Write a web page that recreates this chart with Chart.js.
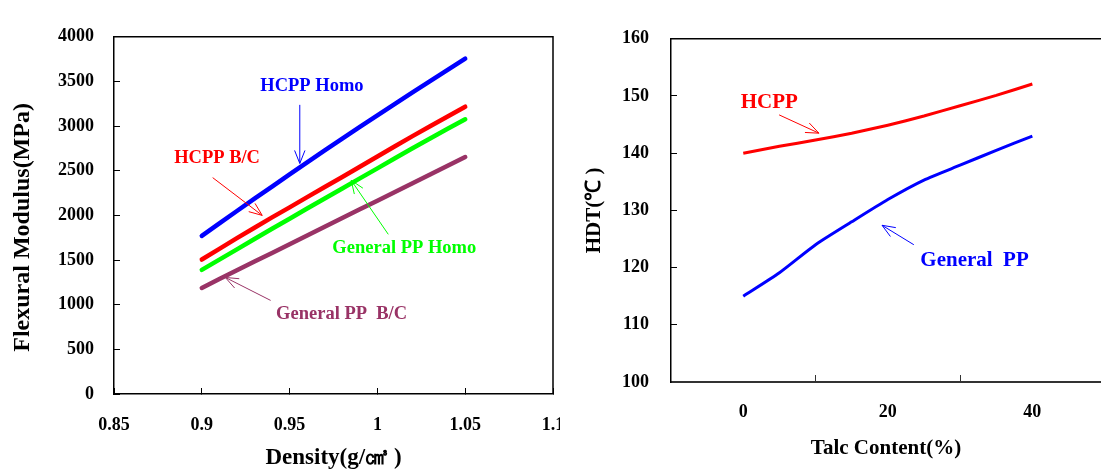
<!DOCTYPE html>
<html>
<head>
<meta charset="utf-8">
<script src="https://cdn.jsdelivr.net/npm/chart.js@4.4.0/dist/chart.umd.min.js"></script>
<style>
  body { margin: 0; background: #fff; width: 1101px; height: 472px; overflow: hidden; position: relative; }
  #density_box { position: absolute; left: 0; top: 0; width: 560px; height: 472px; }
  #talc_box { position: absolute; left: 560px; top: 0; width: 541px; height: 472px; }
</style>
</head>
<body>
<div id="density_box"><canvas id="density_chart"></canvas></div>
<div id="talc_box"><canvas id="talc_chart"></canvas></div>
<script>
// left chart: flexural modulus vs density
const density = [0.90, 0.91, 0.92, 0.93, 0.94, 0.95, 0.96, 0.97, 0.98, 0.99, 1.00, 1.01, 1.02, 1.03, 1.04, 1.05];
const hcpp_homo = [1771, 1910, 2049, 2187, 2323, 2459, 2594, 2727, 2859, 2990, 3121, 3250, 3377, 3504, 3630, 3755];
const hcpp_bc = [1506, 1625, 1745, 1862, 1978, 2090, 2205, 2318, 2430, 2545, 2660, 2775, 2888, 2998, 3108, 3217];
const general_homo = [1390, 1505, 1620, 1735, 1850, 1963, 2077, 2190, 2302, 2415, 2527, 2640, 2752, 2862, 2970, 3076];
const general_bc = [1188, 1287, 1385, 1483, 1580, 1678, 1775, 1873, 1970, 2068, 2165, 2263, 2360, 2458, 2555, 2653];
const density_ticks = [0.85, 0.9, 0.95, 1, 1.05, 1.1];
const modulus_ticks = [0, 500, 1000, 1500, 2000, 2500, 3000, 3500, 4000];

// right chart: HDT vs talc content
const talc = [0, 5, 10, 15, 20, 25, 30, 35, 40];
const hdt_hcpp = [140, 141.2, 142.3, 143.5, 144.9, 146.5, 148.3, 150.1, 152.1];
const hdt_general = [115, 119.1, 124, 128, 131.9, 135.3, 137.9, 140.5, 143];
const talc_label_ticks = [0, 20, 40];
const talc_mark_ticks = [10, 30];
const hdt_ticks = [100, 110, 120, 130, 140, 150, 160];

const serif = "'Liberation Serif', 'Times New Roman', serif";
Chart.defaults.font.family = serif;
Chart.defaults.font.weight = "bold";
Chart.defaults.color = "#000";

function points(xs, ys) {
  return xs.map((x, i) => ({ x: x, y: ys[i] }));
}

function set_ticks(values) {
  return (scale) => {
    scale.ticks = values.map((v) => ({ value: v }));
  };
}

// fixed axis size, no extra side padding from the labels
function fix_height(h) {
  return (s) => {
    s.height = h;
    s.paddingLeft = 0;
    s.paddingRight = 0;
  };
}

// frame lines on top / right of the plot area
const frame_plugin = {
  id: "frame",
  afterDraw(chart, args, opts) {
    const a = chart.chartArea;
    const ctx = chart.ctx;
    ctx.save();
    ctx.strokeStyle = "#000";
    ctx.lineWidth = 1.5;
    ctx.beginPath();
    ctx.moveTo(a.left, a.top);
    ctx.lineTo(a.right, a.top);
    if (opts.right) {
      ctx.lineTo(a.right, a.bottom);
    }
    ctx.stroke();
    ctx.restore();
  },
};

// text labels and arrows placed in data units
const notes_plugin = {
  id: "notes",
  afterDatasetsDraw(chart, args, opts) {
    const ctx = chart.ctx;
    const xs = chart.scales.x;
    const ys = chart.scales.y;
    ctx.save();
    (opts.arrows || []).forEach((a) => {
      const x1 = xs.getPixelForValue(a.from[0]);
      const y1 = ys.getPixelForValue(a.from[1]);
      const x2 = xs.getPixelForValue(a.to[0]);
      const y2 = ys.getPixelForValue(a.to[1]);
      const ang = Math.atan2(y2 - y1, x2 - x1);
      const len = 14;
      ctx.strokeStyle = a.color;
      ctx.lineWidth = 1;
      ctx.beginPath();
      ctx.moveTo(x1, y1);
      ctx.lineTo(x2, y2);
      ctx.moveTo(x2 - len * Math.cos(ang - 0.38), y2 - len * Math.sin(ang - 0.38));
      ctx.lineTo(x2, y2);
      ctx.lineTo(x2 - len * Math.cos(ang + 0.38), y2 - len * Math.sin(ang + 0.38));
      ctx.stroke();
    });
    ctx.font = "bold " + opts.size + "px " + serif;
    ctx.textAlign = "center";
    ctx.textBaseline = "middle";
    (opts.labels || []).forEach((l) => {
      ctx.fillStyle = l.color;
      ctx.fillText(l.text, xs.getPixelForValue(l.at[0]), ys.getPixelForValue(l.at[1]));
    });
    ctx.restore();
  },
};

const density_chart = new Chart(document.getElementById("density_chart"), {
  type: "line",
  data: {
    datasets: [
      { label: "HCPP Homo", data: points(density, hcpp_homo), borderColor: "#0000ff" },
      { label: "HCPP B/C", data: points(density, hcpp_bc), borderColor: "#ff0000" },
      { label: "General PP Homo", data: points(density, general_homo), borderColor: "#00ff00" },
      { label: "General PP B/C", data: points(density, general_bc), borderColor: "#993366" },
    ],
  },
  options: {
    responsive: true,
    maintainAspectRatio: false,
    animation: false,
    events: [],
    layout: { autoPadding: false, padding: { top: 16, right: 7, bottom: 0, left: 0 } },
    elements: {
      line: { borderWidth: 4.5, tension: 0, borderCapStyle: "round" },
      point: { radius: 0 },
    },
    plugins: {
      legend: { display: false },
      tooltip: { enabled: false },
      frame: { right: true },
      notes: {
        size: 18.5,
        labels: [
          { text: "HCPP Homo", at: [0.9627, 3450], color: "#0000ff" },
          { text: "HCPP B/C", at: [0.9087, 2635], color: "#ff0000" },
          { text: "General PP Homo", at: [1.0153, 1637], color: "#00ff00" },
          { text: "General PP  B/C", at: [0.9796, 889], color: "#993366" },
        ],
        arrows: [
          { from: [0.9558, 3238], to: [0.9558, 2582], color: "#0000ff" },
          { from: [0.9062, 2423], to: [0.9344, 2000], color: "#ff0000" },
          { from: [1.0062, 1788], to: [0.9851, 2392], color: "#00ff00" },
          { from: [0.9392, 1048], to: [0.9134, 1305], color: "#993366" },
        ],
      },
    },
    scales: {
      x: {
        type: "linear",
        min: 0.85,
        max: 1.1,
        afterBuildTicks: set_ticks(density_ticks),
        afterFit: fix_height(78),
        grid: { drawOnChartArea: false, tickLength: -6, tickColor: "#000" },
        border: { color: "#000", width: 1.5 },
        ticks: {
          padding: 27,
          font: { size: 18, weight: "bold" },
          callback: (v) => String(Math.round(v * 100) / 100),
        },
        title: {
          display: true,
          text: "Density(g/㎤ )",
          font: { size: 23, weight: "bold" },
          padding: { top: 0, bottom: 0 },
        },
      },
      y: {
        min: 0,
        max: 4000,
        afterBuildTicks: set_ticks(modulus_ticks),
        afterFit: (s) => { s.width = 114; },
        grid: { drawOnChartArea: false, tickLength: -6, tickColor: "#000" },
        border: { color: "#000", width: 1.5 },
        ticks: { padding: 26, font: { size: 18, weight: "bold" }, callback: (v) => String(v) },
        title: {
          display: true,
          text: "Flexural Modulus(MPa)    ",
          font: { size: 24, weight: "bold" },
          padding: { top: 8, bottom: 0 },
        },
      },
    },
  },
  plugins: [frame_plugin, notes_plugin],
});

const talc_chart = new Chart(document.getElementById("talc_chart"), {
  type: "line",
  data: {
    datasets: [
      { label: "HCPP", data: points(talc, hdt_hcpp), borderColor: "#ff0000" },
      { label: "General PP", data: points(talc, hdt_general), borderColor: "#0000ff" },
    ],
  },
  options: {
    responsive: true,
    maintainAspectRatio: false,
    animation: false,
    events: [],
    layout: { autoPadding: false, padding: { top: 20, right: 0, bottom: 0, left: 0 } },
    elements: {
      line: { borderWidth: 3, tension: 0.2 },
      point: { radius: 0 },
    },
    plugins: {
      legend: { display: false },
      tooltip: { enabled: false },
      frame: { right: false },
      notes: {
        size: 21,
        labels: [
          { text: "HCPP", at: [3.6, 148.8], color: "#ff0000" },
          { text: "General  PP", at: [32.0, 121.2], color: "#0000ff" },
        ],
        arrows: [
          { from: [4.96, 146.7], to: [10.47, 143.5], color: "#ff0000" },
          { from: [23.6, 124.0], to: [19.2, 127.4], color: "#0000ff" },
        ],
      },
    },
    scales: {
      x: {
        type: "linear",
        min: -10,
        max: 49.5,
        afterBuildTicks: set_ticks(talc_label_ticks.concat(talc_mark_ticks).sort((a, b) => a - b)),
        afterFit: fix_height(90),
        grid: {
          drawOnChartArea: false,
          tickLength: -7,
          tickColor: (c) => (talc_mark_ticks.includes(c.tick.value) ? "#333" : "rgba(0,0,0,0)"),
        },
        border: { color: "#333", width: 2 },
        ticks: {
          padding: 27,
          font: { size: 18, weight: "bold" },
          callback: (v) => (talc_label_ticks.includes(v) ? String(v) : ""),
        },
        title: {
          display: true,
          text: "Talc Content(%)",
          font: { size: 21, weight: "bold" },
          padding: { top: 0, bottom: 11 },
        },
      },
      y: {
        min: 100,
        max: 160,
        afterBuildTicks: set_ticks(hdt_ticks),
        afterFit: (s) => { s.width = 111; },
        grid: { drawOnChartArea: false, tickLength: -6, tickColor: "#000" },
        border: { color: "#000", width: 1.5 },
        ticks: { padding: 28, font: { size: 18, weight: "bold" } },
        title: {
          display: true,
          text: "HDT(℃ )",
          font: { size: 21, weight: "bold" },
          padding: { top: 22, bottom: 0 },
        },
      },
    },
  },
  plugins: [frame_plugin, notes_plugin],
});
</script>
</body>
</html>
